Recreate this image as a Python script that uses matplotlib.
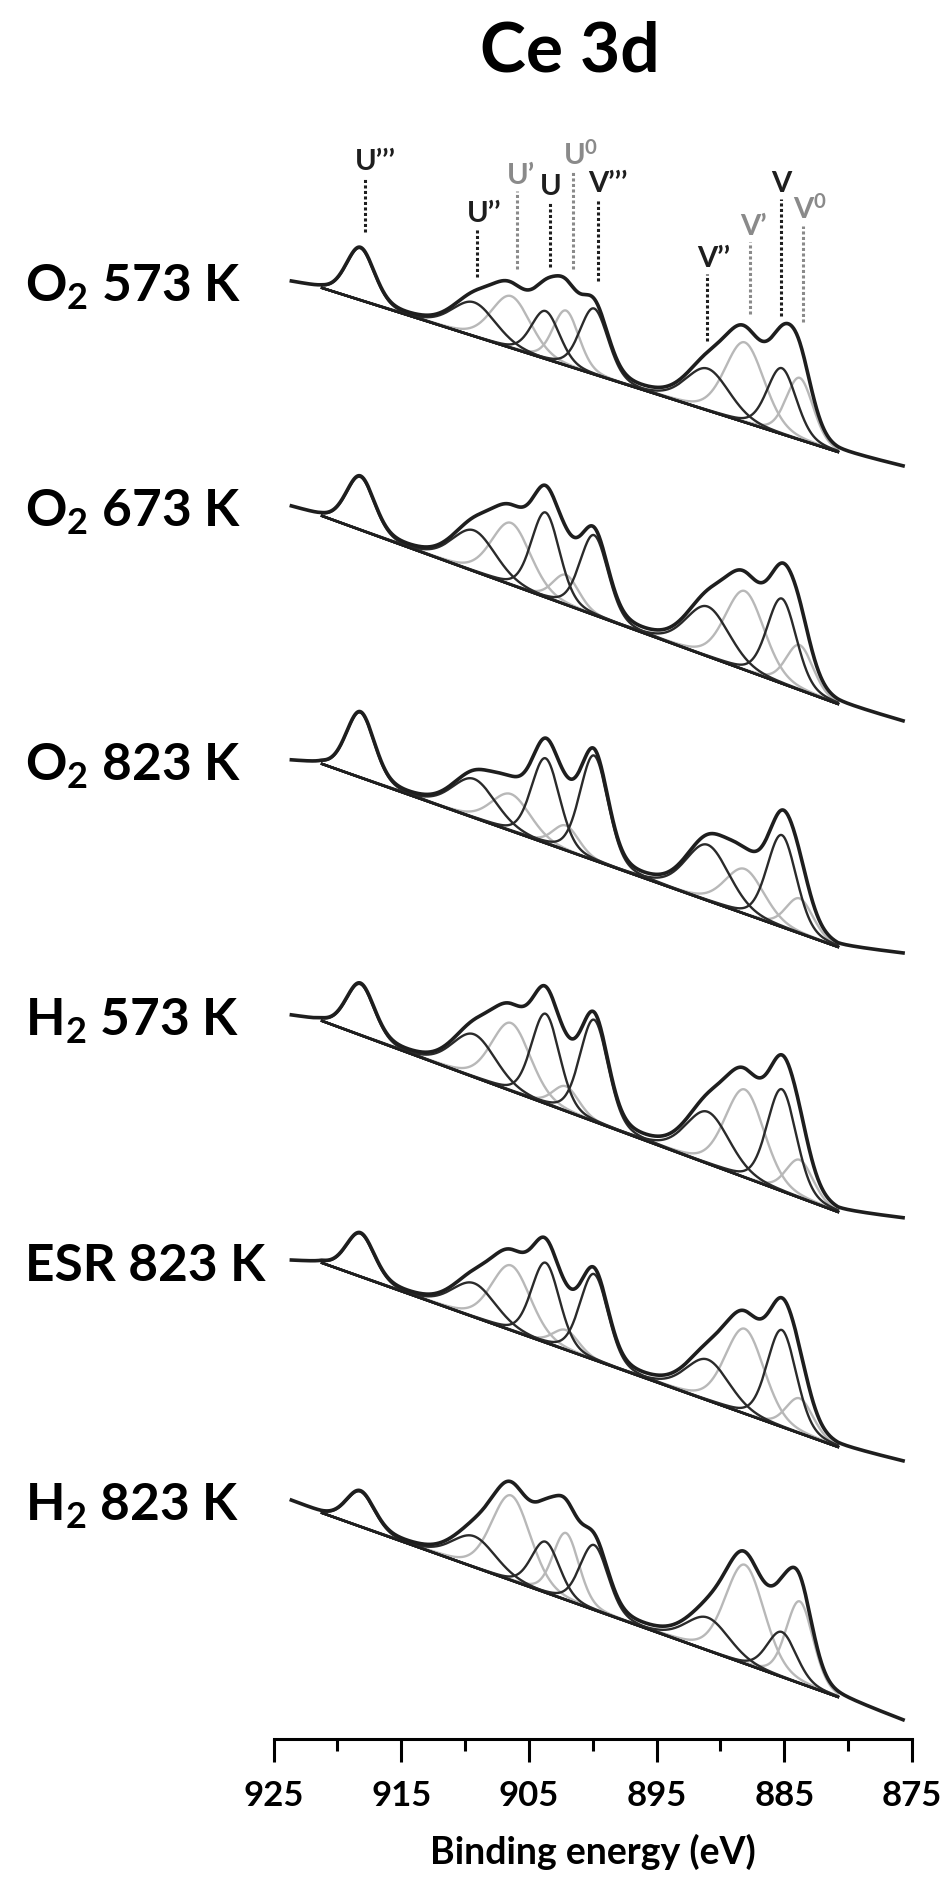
import numpy as np
import matplotlib
matplotlib.use('Agg')
import matplotlib.pyplot as plt
from matplotlib.ticker import MultipleLocator

plt.rcParams['font.family'] = ['Lato', 'DejaVu Sans']
plt.rcParams['font.weight'] = 'bold'
plt.rcParams['mathtext.default'] = 'regular'

# --- muestras (de arriba a abajo) ---
samples = ['O$_2$ 573 K', 'O$_2$ 673 K', 'O$_2$ 823 K', 'H$_2$ 573 K', 'ESR 823 K', 'H$_2$ 823 K']

# --- componentes del ajuste Ce 3d ---
comp_names = ["U\u2019\u2019\u2019", "U\u2019\u2019", "U\u2019", "U", "U$^0$",
              "V\u2019\u2019\u2019", "V\u2019\u2019", "V\u2019", "V", "V$^0$"]
comp_center = [918.2, 909.3, 906.4, 903.7, 902.1, 899.9, 891.0, 888.1, 885.2, 883.8]
comp_fwhm = [2.6, 4.0, 3.6, 2.6, 2.4, 2.6, 4.0, 3.6, 2.7, 2.5]
comp_gray = [False, False, True, False, True, False, False, True, False, True]

# alturas de cada componente sobre la linea base (u.a.)
h_o2_573 = [52, 34, 52, 48, 55, 66, 42, 80, 66, 62]
h_o2_673 = [53, 41, 62, 85, 30, 80, 50, 79, 85, 45]
h_o2_823 = [65, 39, 37, 85, 25, 105, 56, 45, 92, 35]
h_h2_573 = [51, 43, 68, 90, 25, 102, 52, 88, 102, 38]
h_esr_823 = [43, 34, 65, 80, 20, 86, 41, 85, 97, 35]
h_h2_823 = [35, 31, 85, 51, 67, 65, 33, 99, 45, 82]
heights = [h_o2_573, h_o2_673, h_o2_823, h_h2_573, h_esr_823, h_h2_823]

# fondo: energias de los puntos de control
E_lead, E_bs, E_be, E_tail = 923.6, 921.2, 880.8, 875.7
lead_level = [1457, 1232, 978, 723, 478, 238]
bl_start = [1451, 1223, 975, 718, 476, 226]
bl_end = [1287, 1035, 792, 527, 292, 42]
tail_level = [1272, 1017, 785, 520, 277, 18]

# marcadores (solo espectro superior)
mark_E = [917.83, 909.06, 905.93, 903.35, 901.55, 899.6, 891.06, 887.69, 885.26, 883.54]
mark_top = [1562, 1510, 1548, 1537, 1567, 1540, 1465, 1497, 1540, 1513]
mark_bot = [1507, 1462, 1470, 1472, 1470, 1458, 1398, 1425, 1423, 1417]

DARK = '#1e1e1e'
GRAY = '#b8b8b8'
LABEL_GRAY = '#8a8a8a'


def gl_peak(E, c, h, w, m=0.2):
    x = (E - c) / w
    return h * ((1 - m) * np.exp(-4 * np.log(2) * x ** 2) + m / (1 + 4 * x ** 2))


fig = plt.figure(figsize=(9.48, 18.83), dpi=100)
W, H = 948.0, 1883.0
ax = fig.add_axes([273.5 / W, 143 / H, (912 - 273.5) / W, 1740 / H])
ax.set_xlim(925, 875)
ax.set_ylim(0, 1740)

E_all = np.linspace(E_tail, E_lead, 1500)
E_bl = np.linspace(E_be, E_bs, 1200)

for i, name in enumerate(samples):
    bg_E = [E_tail, E_be, E_bs, E_lead]
    bg_y = [tail_level[i], bl_end[i], bl_start[i], lead_level[i]]
    bg = np.interp(E_all, bg_E, bg_y)
    base = np.interp(E_bl, [E_be, E_bs], [bl_end[i], bl_start[i]])

    total = bg.copy()
    for c, h, w in zip(comp_center, heights[i], comp_fwhm):
        total += gl_peak(E_all, c, h, w)

    # componentes grises primero, luego las oscuras
    for gray_pass in (True, False):
        for c, h, w, g in zip(comp_center, heights[i], comp_fwhm, comp_gray):
            if g != gray_pass:
                continue
            ax.plot(E_bl, base + gl_peak(E_bl, c, h, w),
                    color=GRAY if g else '#2a2a2a', lw=1.7, zorder=2 if g else 3)

    ax.plot(E_bl, base, color=DARK, lw=1.6, zorder=4)
    ax.plot(E_all, total, color=DARK, lw=2.6, zorder=5)

    # etiqueta de la muestra
    y_lab = lead_level[i] - 19
    fig.text(25 / W, (y_lab + 143) / H, name, fontsize=37, fontweight='bold',
             ha='left', va='baseline')

# lineas de referencia y etiquetas de picos
for E, top, bot, lab, g in zip(mark_E, mark_top, mark_bot, comp_names, comp_gray):
    col = LABEL_GRAY if g else DARK
    ax.plot([E, E], [bot, top], color=col, lw=2.2, linestyle=(0, (1.0, 0.8)), zorder=6)
    ax.annotate(lab, xy=(E, top), xytext=(-7, 6), textcoords='offset points',
                ha='left', va='baseline', fontsize=21, fontweight='bold', color=col)

# ejes
for s in ['left', 'right', 'top']:
    ax.spines[s].set_visible(False)
ax.spines['bottom'].set_linewidth(2.2)
ax.set_yticks([])
ax.xaxis.set_major_locator(MultipleLocator(10))
ax.xaxis.set_minor_locator(MultipleLocator(5))
ax.set_xticks([925, 915, 905, 895, 885, 875])
ax.tick_params(axis='x', which='major', direction='out', length=16.5, width=2.2,
               labelsize=25, pad=12)
ax.tick_params(axis='x', which='minor', direction='out', length=8.5, width=2.2)
for t in ax.get_xticklabels():
    t.set_fontweight('bold')
ax.set_xlabel('Binding energy (eV)', fontsize=27, fontweight='bold', labelpad=16)

fig.text(570 / W, 1 - 72 / H, 'Ce 3d', fontsize=50, fontweight='bold',
         ha='center', va='baseline')

fig.savefig('out.png', dpi=100)
